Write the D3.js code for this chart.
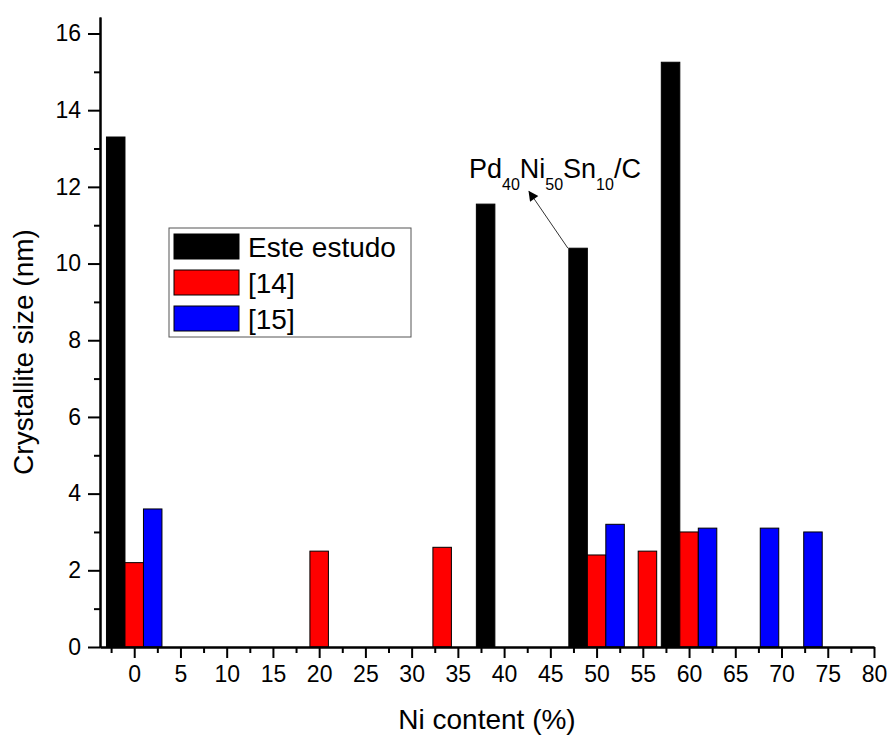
<!DOCTYPE html>
<meta charset="utf-8">
<style>
body { margin: 0; background: #fff; }
svg, svg text { font-family: "Liberation Sans", Arial, Helvetica, sans-serif; }
.axis path, .axis line { stroke: #000; stroke-width: 2; }
.axis text { font-family: "Liberation Sans", Arial, Helvetica, sans-serif; font-size: 23px; fill: #000; }
</style>
<body>
<script src="https://cdn.jsdelivr.net/npm/d3@7"></script>
<script>

var width = 888,
    height = 735;

var margin = {top: 17, right: 14, bottom: 88, left: 100};
var w = width - margin.left - margin.right,
    h = height - margin.top - margin.bottom;

// series and data (Ni content %, crystallite size nm)
var seriesNames = ["Este estudo", "[14]", "[15]"];
var seriesColors = ["#000000", "#ff0000", "#0000ff"];

var esteX = [0, 40, 50, 60];
var esteY = [13.3, 11.55, 10.4, 15.25];

var ref14X = [0, 20, 33.3, 50, 55.5, 60];
var ref14Y = [2.2, 2.5, 2.6, 2.4, 2.5, 3.0];

var ref15X = [0, 50, 60, 66.7, 71.4];
var ref15Y = [3.6, 3.2, 3.1, 3.1, 3.0];

var xTicks = d3.range(0, 81, 5);
var xMinor = d3.range(-2.5, 80, 5);
var yTicks = d3.range(0, 17, 2);
var yMinor = d3.range(1, 16, 2);

var annotation = {x: 36.2, y: 12.23, arrowFrom: [46.9, 10.4], arrowTo: [42.7, 11.88]};

var seriesX = [esteX, ref14X, ref15X],
    seriesY = [esteY, ref14Y, ref15Y];

var bars = [];
seriesNames.forEach(function(name, s) {
  seriesX[s].forEach(function(x, i) {
    bars.push({series: name, x: x, y: seriesY[s][i], color: seriesColors[s]});
  });
});

var svg = d3.select("body").append("svg")
    .attr("width", width)
    .attr("height", height)
    .attr("font-family", "Liberation Sans, Arial, sans-serif");

var g = svg.append("g")
    .attr("transform", "translate(" + margin.left + "," + margin.top + ")");

var x = d3.scaleLinear().domain([-3.7, 80]).range([0, w]);
var y = d3.scaleLinear().domain([0, 16.43]).range([h, 0]);

// offset of each series inside a group, in x units
var offset = d3.scaleBand().domain(seriesNames).range([-3, 3]);

var defs = svg.append("defs");
defs.append("marker")
    .attr("id", "arrow")
    .attr("viewBox", "0 0 10 10")
    .attr("refX", 9)
    .attr("refY", 5)
    .attr("markerWidth", 14)
    .attr("markerHeight", 10)
    .attr("markerUnits", "userSpaceOnUse")
    .attr("orient", "auto")
  .append("path")
    .attr("d", "M0,0L10,5L0,10z")
    .attr("fill", "#000");

g.selectAll(".bar")
    .data(bars)
  .enter().append("rect")
    .attr("class", "bar")
    .attr("x", function(d) { return x(d.x + offset(d.series)); })
    .attr("width", function(d) { return x(d.x + offset(d.series) + offset.bandwidth()) - x(d.x + offset(d.series)); })
    .attr("y", function(d) { return y(d.y); })
    .attr("height", function(d) { return y(0) - y(d.y); })
    .attr("fill", function(d) { return d.color; })
    .attr("stroke", "#000")
    .attr("stroke-width", 1);

// axes
g.append("g")
    .attr("class", "axis")
    .attr("transform", "translate(0," + h + ")")
    .call(d3.axisBottom(x).tickValues(xMinor).tickSize(6).tickSizeOuter(0).tickFormat(""));

g.append("g")
    .attr("class", "axis")
    .attr("transform", "translate(0," + h + ")")
    .call(d3.axisBottom(x).tickValues(xTicks).tickSize(11).tickSizeOuter(0).tickPadding(8));

g.append("g")
    .attr("class", "axis")
    .call(d3.axisLeft(y).tickValues(yMinor).tickSize(6).tickSizeOuter(0).tickFormat(""));

g.append("g")
    .attr("class", "axis")
    .call(d3.axisLeft(y).tickValues(yTicks).tickSize(12).tickSizeOuter(0).tickPadding(7));

g.selectAll(".axis text").attr("font-family", "Liberation Sans, Arial, sans-serif");

// axis titles
svg.append("text")
    .attr("x", margin.left + w / 2)
    .attr("y", 729)
    .attr("text-anchor", "middle")
    .style("font-size", "28px")
    .text("Ni content (%)");

svg.append("text")
    .attr("transform", "translate(33,352)rotate(-90)")
    .attr("text-anchor", "middle")
    .style("font-size", "28px")
    .text("Crystallite size (nm)");

// legend
var legend = svg.append("g")
    .attr("transform", "translate(169,228)");

legend.append("rect")
    .attr("width", 242)
    .attr("height", 109)
    .attr("fill", "#fff")
    .attr("stroke", "#555")
    .attr("stroke-width", 1);

var items = legend.selectAll(".item")
    .data(seriesNames)
  .enter().append("g")
    .attr("class", "item")
    .attr("transform", function(d, i) { return "translate(5," + (6 + i * 36) + ")"; });

items.append("rect")
    .attr("width", 65)
    .attr("height", 25)
    .attr("fill", function(d, i) { return seriesColors[i]; })
    .attr("stroke", "#000");

items.append("text")
    .attr("x", 74)
    .attr("y", 23)
    .style("font-size", "28px")
    .text(function(d) { return d; });

// annotation
var label = g.append("text")
    .attr("x", x(annotation.x))
    .attr("y", y(annotation.y))
    .style("font-size", "27px");

[["Pd", false], ["40", true], ["Ni", false], ["50", true], ["Sn", false], ["10", true], ["/C", false]].forEach(function(p, i, parts) {
  var prevSub = i > 0 && parts[i - 1][1];
  label.append("tspan")
      .attr("dy", p[1] ? 12 : (prevSub ? -12 : 0))
      .style("font-size", p[1] ? "16px" : "27px")
      .text(p[0]);
});

g.append("line")
    .attr("x1", x(annotation.arrowFrom[0]))
    .attr("y1", y(annotation.arrowFrom[1]))
    .attr("x2", x(annotation.arrowTo[0]))
    .attr("y2", y(annotation.arrowTo[1]))
    .attr("stroke", "#333")
    .attr("stroke-width", 1)
    .attr("marker-end", "url(#arrow)");

</script>
